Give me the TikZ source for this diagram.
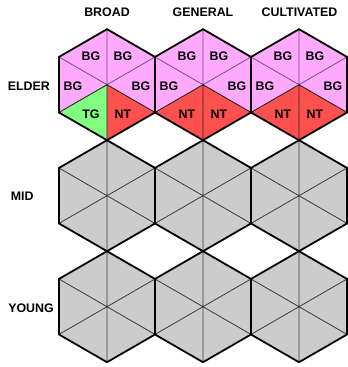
\documentclass[tikz,border=0pt]{standalone}
\usepackage{fontspec}
\setmainfont{Liberation Sans}
\definecolor{bgpink}{HTML}{FFAAFF}
\definecolor{tggreen}{HTML}{80FF80}
\definecolor{ntred}{HTML}{FF5050}
\definecolor{cellgray}{HTML}{CCCCCC}
\definecolor{spokepink}{HTML}{7A4A7A}
\definecolor{spokegray}{HTML}{3A3A3A}
\tikzset{
  lbl/.style={font=\bfseries\fontsize{12.4}{14}\selectfont, inner sep=0pt},
  hexline/.style={draw=black, line width=1.8pt, line join=miter},
  softspoke/.style={line width=0.8pt},
  hardspoke/.style={draw=black!85, line width=0.9pt},
}
% #1 cx, #2 cy, #3..#8 fills TL,TR,R,BR,BL,L, #9 spoke colour for upper spokes
\newcommand\hexcell[9]{%
  \begin{scope}[shift={(#1,#2)}]
    \coordinate (C) at (0,0);
    \coordinate (T) at (0,-55.5);
    \coordinate (UR) at (48.06,-27.75);
    \coordinate (LR) at (48.06,27.75);
    \coordinate (B) at (0,55.5);
    \coordinate (LL) at (-48.06,27.75);
    \coordinate (UL) at (-48.06,-27.75);
    \fill[#3] (C) -- (UL) -- (T) -- cycle;
    \fill[#4] (C) -- (T) -- (UR) -- cycle;
    \fill[#5] (C) -- (UR) -- (LR) -- cycle;
    \fill[#6] (C) -- (LR) -- (B) -- cycle;
    \fill[#7] (C) -- (B) -- (LL) -- cycle;
    \fill[#8] (C) -- (LL) -- (UL) -- cycle;
  \end{scope}}
\newcommand\hexspokes[4]{%
  \begin{scope}[shift={(#1,#2)}]
    \draw[softspoke, draw=#3] (0,0) -- (0,-55.5) (0,0) -- (48.06,-27.75) (0,0) -- (-48.06,-27.75);
    \draw[#4] (0,0) -- (48.06,27.75) (0,0) -- (-48.06,27.75) (0,0) -- (0,55.5);
    \draw[hexline] (0,-55.5) -- (48.06,-27.75) -- (48.06,27.75) -- (0,55.5) -- (-48.06,27.75) -- (-48.06,-27.75) -- cycle;
  \end{scope}}
\begin{document}
\begin{tikzpicture}[x=1pt,y=-1pt]
\useasboundingbox (0,0) rectangle (348,367);
% elder row
\hexcell{107}{84.7}{bgpink}{bgpink}{bgpink}{ntred}{tggreen}{bgpink}{}
\hexcell{203}{84.7}{bgpink}{bgpink}{bgpink}{ntred}{ntred}{bgpink}{}
\hexcell{299}{84.7}{bgpink}{bgpink}{bgpink}{ntred}{ntred}{bgpink}{}
\foreach \cx in {107,203,299}{
  \foreach \cy in {195.7,306.7}{
    \hexcell{\cx}{\cy}{cellgray}{cellgray}{cellgray}{cellgray}{cellgray}{cellgray}{}
  }
}
\foreach \cx in {107,203,299}{
  \hexspokes{\cx}{84.7}{spokepink}{hardspoke}
  \foreach \cy in {195.7,306.7}{
    \hexspokes{\cx}{\cy}{spokegray}{softspoke, draw=spokegray}
  }
}
% headers
\node[lbl] (hbroad) at (107,12.7) {BROAD};
\node[lbl] (hgeneral) at (203,12.7) {GENERAL};
\node[lbl] (hcult) at (299.5,12.7) {CULTIVATED};
\node[lbl] (relder) at (28.8,86.5) {ELDER};
\node[lbl] (rmid) at (22.2,196.7) {MID};
\node[lbl] (ryoung) at (31,308.5) {YOUNG};
% cell labels
\foreach \cx/\bl/\k in {107/TG/a,203/NT/b,299/NT/c}{
  \node[lbl] (tl\k) at (\cx-16,56.7) {BG};
  \node[lbl] (tr\k) at (\cx+16,56.7) {BG};
  \node[lbl] (l\k) at (\cx-34,86) {BG};
  \node[lbl] (r\k) at (\cx+34,86) {BG};
  \node[lbl] (bl\k) at (\cx-16,114) {\bl};
  \node[lbl] (br\k) at (\cx+16,114) {NT};
}
\end{tikzpicture}
\end{document}
